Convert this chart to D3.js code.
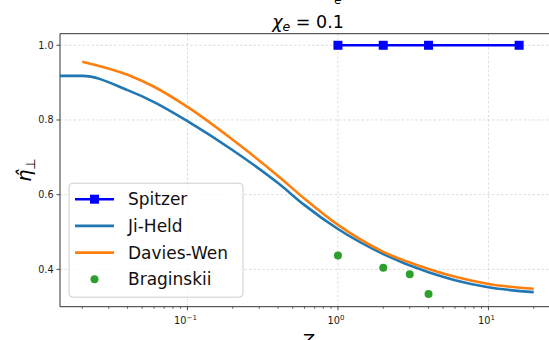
<!DOCTYPE html>
<html>
<head>
<meta charset="utf-8">
<script src="https://cdn.jsdelivr.net/npm/d3@7"></script>
<style>
  body { margin: 0; background: #fff; }
  svg { display: block; font-family: "DejaVu Sans", sans-serif; }
</style>
</head>
<body>
<svg id="chart" width="549" height="340"></svg>
<script>
// values
const zSpitzer = [1, 2, 4, 16];
const etaSpitzer = [1.0, 1.0, 1.0, 1.0];

const zJiHeld = [0.01, 0.02, 0.04, 0.06, 0.1, 0.2, 0.4, 0.6, 1, 2, 4, 6, 10, 20];
const etaJiHeld = [0.918, 0.918, 0.880, 0.848, 0.797, 0.719, 0.631, 0.572, 0.508, 0.441, 0.392, 0.371, 0.352, 0.339];

const zDaviesWen = [0.02, 0.04, 0.06, 0.1, 0.2, 0.4, 0.6, 1, 2, 4, 6, 10, 20];
const etaDaviesWen = [0.956, 0.921, 0.889, 0.835, 0.747, 0.650, 0.589, 0.519, 0.447, 0.401, 0.380, 0.361, 0.348];

const zBraginskii = [1, 2, 3, 4];
const etaBraginskii = [0.437, 0.404, 0.387, 0.334];

const yTicks = [0.4, 0.6, 0.8, 1.0];
const xTicks = [0.1, 1, 10];
const xTickExp = ['\u22121', '0', '1'];
const legendLabels = ['Spitzer', 'Ji-Held', 'Davies-Wen', 'Braginskii'];

const svg = d3.select('#chart'),
  margin = {top: 33.7, left: 60, bottom: 33.3, right: -7},
  width = +svg.attr('width') - margin.left - margin.right,
  height = +svg.attr('height') - margin.top - margin.bottom;

const x = d3.scaleLog()
  .domain([Math.pow(10, -1.847), Math.pow(10, 1.449)])
  .range([0, width]);

const y = d3.scaleLinear()
  .domain([0.3, 1.031])
  .range([height, 0]);

svg.append('defs').append('clipPath').attr('id', 'clip')
  .append('rect').attr('width', width).attr('height', height);

const g = svg.append('g')
  .attr('transform', 'translate(' + margin.left + ',' + margin.top + ')');

// grid
const grid = g.append('g').attr('stroke', '#d4d4d4').attr('stroke-width', 0.8)
  .attr('stroke-dasharray', '2.5,2');
grid.selectAll('.gx').data(xTicks).enter().append('line')
  .attr('x1', d => x(d)).attr('x2', d => x(d)).attr('y1', 0).attr('y2', height);
grid.selectAll('.gy').data(yTicks).enter().append('line')
  .attr('x1', 0).attr('x2', width).attr('y1', d => y(d)).attr('y2', d => y(d));

// axes
const minor = [];
[-2, -1, 0, 1].forEach(function(e) {
  for (let k = 2; k <= 9; k++) {
    const v = k * Math.pow(10, e);
    if (v > x.domain()[0] && v < x.domain()[1]) minor.push(v);
  }
});
const ax = g.append('g').attr('transform', 'translate(0,' + height + ')');
ax.append('line').attr('x1', 0).attr('x2', width).attr('stroke', '#333').attr('stroke-width', 1);
ax.selectAll('.mn').data(minor).enter().append('line')
  .attr('x1', d => x(d)).attr('x2', d => x(d)).attr('y1', 0).attr('y2', 2.2)
  .attr('stroke', '#333').attr('stroke-width', 0.7);
ax.selectAll('.mj').data(xTicks).enter().append('line')
  .attr('x1', d => x(d)).attr('x2', d => x(d)).attr('y1', 0).attr('y2', 3.5)
  .attr('stroke', '#333').attr('stroke-width', 0.9);
const xl = ax.selectAll('.xl').data(xTicks).enter().append('text')
  .attr('x', d => x(d) - 2).attr('y', 17.8)
  .attr('text-anchor', 'middle').attr('font-size', 9.8).attr('fill', '#1a1a1a');
xl.append('tspan').text('10');
xl.append('tspan').attr('dy', -4.8).attr('font-size', 7).text((d, i) => xTickExp[i]);

const ay = g.append('g');
ay.append('line').attr('y1', 0).attr('y2', height).attr('stroke', '#333').attr('stroke-width', 1);
ay.selectAll('.tk').data(yTicks).enter().append('line')
  .attr('x1', -3.5).attr('x2', 0).attr('y1', d => y(d)).attr('y2', d => y(d))
  .attr('stroke', '#333').attr('stroke-width', 0.9);
ay.selectAll('.yl').data(yTicks).enter().append('text')
  .attr('x', -6.5).attr('y', d => y(d) + 3.4)
  .attr('text-anchor', 'end').attr('font-size', 9.6).attr('fill', '#1a1a1a')
  .text(d => d.toFixed(1));
g.append('line').attr('x1', 0).attr('x2', width).attr('y1', 0).attr('y2', 0)
  .attr('stroke', '#333').attr('stroke-width', 1);

// series
const plot = g.append('g').attr('clip-path', 'url(#clip)');
const line = d3.line().x(d => x(d[0])).y(d => y(d[1]));
const smooth = d3.line().curve(d3.curveMonotoneX).x(d => x(d[0])).y(d => y(d[1]));

plot.append('path').datum(d3.zip(zSpitzer, etaSpitzer))
  .attr('fill', 'none').attr('stroke', '#0000ff').attr('stroke-width', 2.6).attr('d', line);
plot.selectAll('.sq').data(d3.zip(zSpitzer, etaSpitzer)).enter().append('rect')
  .attr('x', d => x(d[0]) - 4.5).attr('y', d => y(d[1]) - 4.5)
  .attr('width', 9).attr('height', 9).attr('fill', '#0000ff');

plot.append('path').datum(d3.zip(zJiHeld, etaJiHeld))
  .attr('fill', 'none').attr('stroke', '#1f77b4').attr('stroke-width', 2.6).attr('d', smooth);
plot.append('path').datum(d3.zip(zDaviesWen, etaDaviesWen))
  .attr('fill', 'none').attr('stroke', '#ff7f0e').attr('stroke-width', 2.6).attr('d', smooth);
plot.selectAll('.br').data(d3.zip(zBraginskii, etaBraginskii)).enter().append('circle')
  .attr('cx', d => x(d[0])).attr('cy', d => y(d[1])).attr('r', 4).attr('fill', '#2ca02c');

// legend
const lg = g.append('g').attr('transform', 'translate(9,149.5)');
lg.append('rect').attr('width', 174).attr('height', 114).attr('rx', 4)
  .attr('fill', 'rgba(255,255,255,0.8)').attr('stroke', '#cccccc').attr('stroke-width', 1);
const items = lg.selectAll('.it').data(legendLabels).enter().append('g')
  .attr('transform', (d, i) => 'translate(0,' + (16 + i * 26.7) + ')');
items.append('text').attr('x', 59).attr('y', 6).attr('font-size', 17).attr('fill', '#111').text(d => d);
const hColors = ['#0000ff', '#1f77b4', '#ff7f0e'];
items.filter((d, i) => i < 3).append('line')
  .attr('x1', 6).attr('x2', 45).attr('stroke', (d, i) => hColors[i]).attr('stroke-width', 2.6);
items.filter((d, i) => i === 0).append('rect')
  .attr('x', 21).attr('y', -4.5).attr('width', 9).attr('height', 9).attr('fill', '#0000ff');
items.filter((d, i) => i === 3).append('circle')
  .attr('cx', 25.5).attr('cy', 0).attr('r', 4).attr('fill', '#2ca02c');

// titles and labels
const title = svg.append('text').attr('x', 308).attr('y', 27.5)
  .attr('text-anchor', 'middle').attr('font-size', 17.5).attr('fill', '#000');
title.append('tspan').attr('font-style', 'italic').text('\u03c7');
title.append('tspan').attr('font-style', 'italic').attr('font-size', 12.5).attr('dy', 3).text('e');
title.append('tspan').attr('dy', -3).text(' = 0.1');

svg.append('text').attr('x', 338).attr('y', 3.5).attr('text-anchor', 'middle')
  .attr('font-size', 12).attr('font-style', 'italic').text('e');

svg.append('text').attr('x', 308).attr('y', 347)
  .attr('text-anchor', 'middle').attr('font-size', 18).attr('font-style', 'italic').text('Z');

const yl = svg.append('text')
  .attr('transform', 'translate(31,170) rotate(-90)')
  .attr('text-anchor', 'middle').attr('font-size', 19);
yl.append('tspan').attr('font-style', 'italic').text('\u03b7\u0302');
yl.append('tspan').attr('font-size', 13).attr('dy', 4).text('\u22a5');
</script>
</body>
</html>
